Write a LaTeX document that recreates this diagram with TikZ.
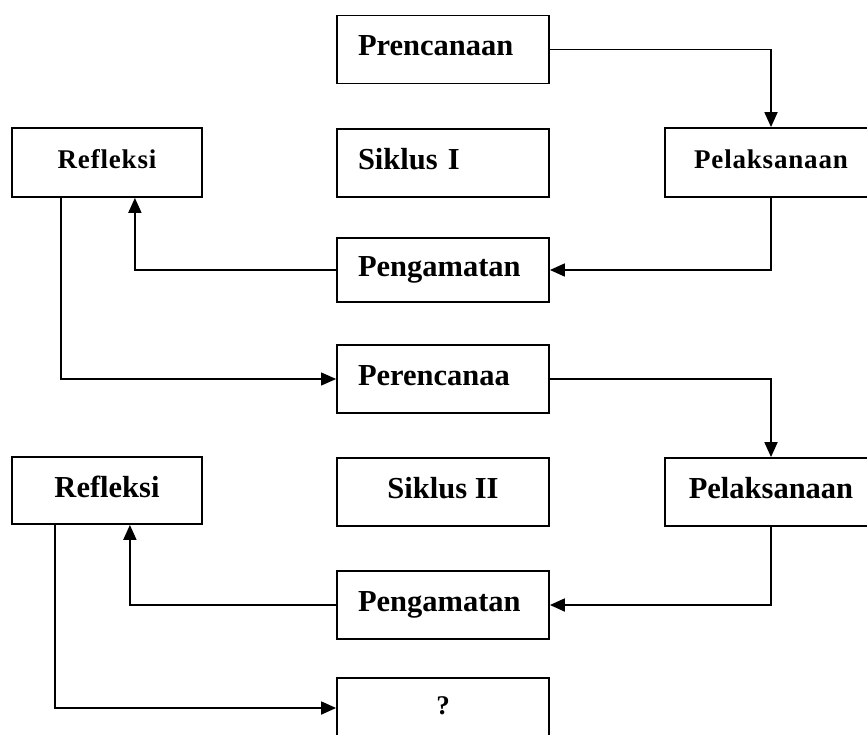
\documentclass[tikz,border=0pt]{standalone}
\usepackage{fontspec}
\setmainfont{Liberation Serif}
\usetikzlibrary{arrows.meta}
\tikzset{
  box/.style={draw=black, line width=1.8pt, minimum width=212pt, minimum height=68pt, inner sep=0pt,
    text height=21pt, text depth=8pt,
    font=\fontsize{30.5}{34}\selectfont\bfseries},
  lbox/.style={box, text width=170pt, inner xsep=21pt, align=left},
  sbox/.style={box, font=\fontsize{27}{30}\selectfont\bfseries\addfontfeature{LetterSpace=3}},
  conn/.style={line width=1.8pt, -{Triangle[length=15pt,width=13pt]}},
  thinconn/.style={line width=1.1pt, -{Triangle[length=15pt,width=13pt]}}
}
\begin{document}
\begin{tikzpicture}[x=1pt,y=-1pt]
\useasboundingbox (0,0) rectangle (867,735);
\fill[white] (0,0) rectangle (867,735);
% cycle I
\node[lbox] (pre1) at (443,49.5) {Prencanaan};
\node[sbox, minimum width=190pt, minimum height=69pt] (ref1) at (107,162.5) {Refleksi};
\node[lbox] (sik1) at (443,163) {Siklus I};
\node[sbox, minimum height=69pt] (pel1) at (771,162.5) {Pelaksanaan};
\node[lbox, minimum height=64pt] (pen1) at (443,270) {Pengamatan};
% cycle II
\node[lbox] (per2) at (443,379) {Perencanaa};
\node[box, minimum width=190pt, minimum height=67pt] (ref2) at (107,490.5) {Refleksi};
\node[box] (sik2) at (443,492) {Siklus II};
\node[box] (pel2) at (771,492) {Pelaksanaan};
\node[lbox] (pen2) at (443,605) {Pengamatan};
\node[sbox, minimum height=60pt] (q) at (443,708) {?};
% connectors
\draw[conn] (pre1.east) -| (pel1.north);
\draw[conn] (pel1.south) |- (pen1.east);
\draw[conn] (pen1.west) -| ([xshift=-68pt]ref1.south east);
\draw[thinconn] ([xshift=-46pt]ref1.south) |- (per2.west);
\draw[conn] (per2.east) -| (pel2.north);
\draw[conn] (pel2.south) |- (pen2.east);
\draw[conn] (pen2.west) -| ([xshift=-73pt]ref2.south east);
\draw[conn] ([xshift=-52pt]ref2.south) |- (q.west);
\end{tikzpicture}
\end{document}
